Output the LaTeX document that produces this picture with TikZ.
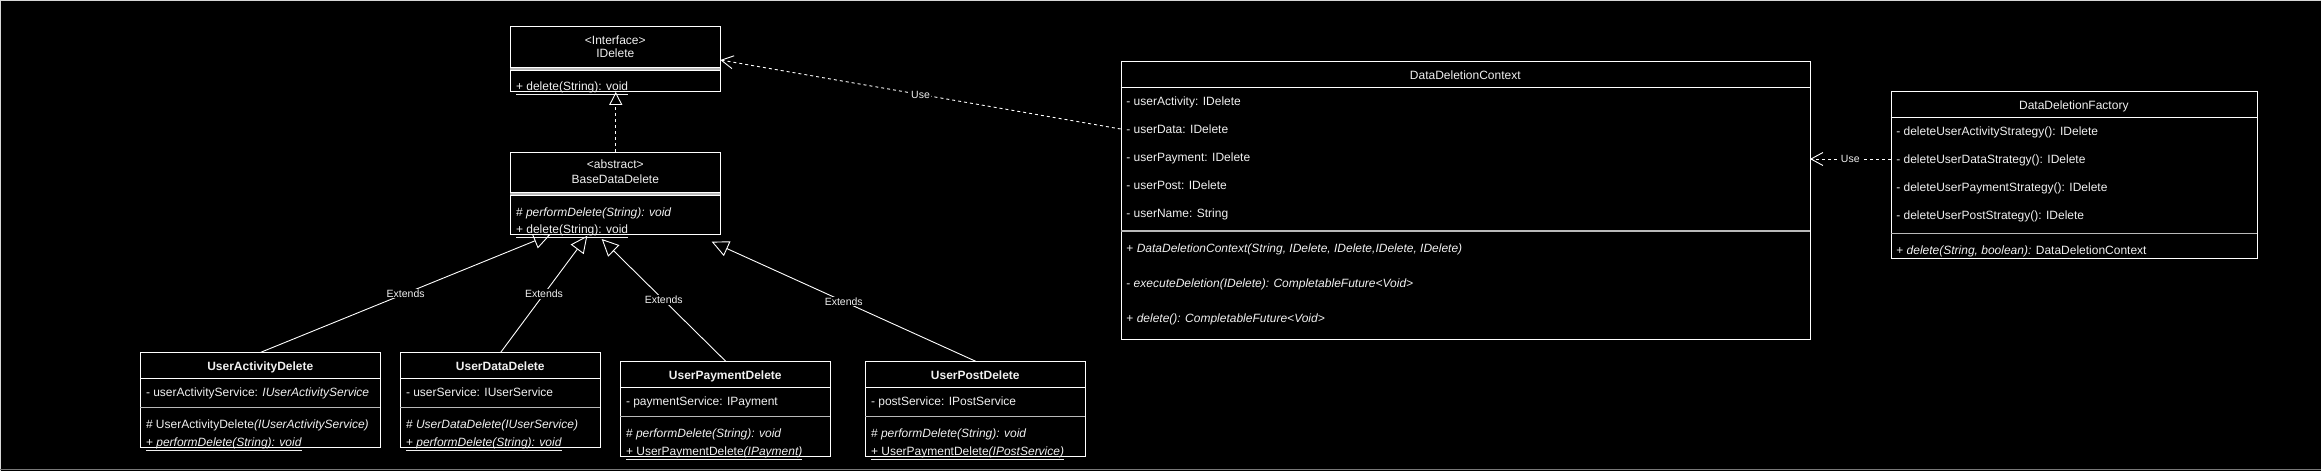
\documentclass[tikz,border=0pt]{standalone}
\usepackage{fontspec}
\setmainfont{Liberation Sans}
\usetikzlibrary{arrows.meta,calc}
\pgfdeclarelayer{bg}
\pgfsetlayers{bg,main}
\definecolor{fg}{RGB}{240,240,240}
\definecolor{sepc}{RGB}{185,185,185}
\definecolor{frametop}{RGB}{215,215,215}
\definecolor{framebot}{RGB}{120,120,120}
\begin{document}
\begin{tikzpicture}[x=1pt,y=-1pt,
  box/.style={draw=white,fill=black,line width=0.9pt,inner sep=0,anchor=north west},
  lt/.style={anchor=west,inner sep=0,text height=8.6pt,text depth=0pt,text=fg,font=\fontsize{12}{14}\selectfont},
  ct/.style={anchor=center,inner sep=0,text height=8.6pt,text depth=0pt,text=fg,font=\fontsize{12}{14}\selectfont},
  hsep/.style={draw=white,line width=0.9pt},
  asep/.style={draw=sepc,line width=1.4pt},
  conn/.style={draw=white,line width=0.9pt},
  lbl/.style={fill=black,text=fg,inner sep=1pt,font=\fontsize{10.5}{12}\selectfont},
  ext/.style={conn,-{Triangle[open,length=17pt,width=16pt]}},
  usearrow/.style={conn,dash pattern=on 3pt off 3pt,-{Straight Barb[length=12pt,width=13pt]}},
  real/.style={conn,dash pattern=on 3pt off 3pt,-{Triangle[open,length=13pt,width=13pt]}},
]
\useasboundingbox (0,0) rectangle (2321,471);

% ---------- boxes ----------
\node[box,minimum width=210pt,minimum height=64.7pt] (idel) at (510.3,26.3) {};
\node[box,minimum width=210pt,minimum height=82.6pt] (base) at (510.3,151.7) {};
\node[box,minimum width=240pt,minimum height=95pt] (uad) at (140.3,352.3) {};
\node[box,minimum width=200pt,minimum height=95pt] (udd) at (400.3,352.3) {};
\node[box,minimum width=210pt,minimum height=95pt] (upd) at (620.3,361.3) {};
\node[box,minimum width=220pt,minimum height=95pt] (upost) at (865.3,361.3) {};
\node[box,minimum width=689.3pt,minimum height=278pt] (ctx) at (1120.7,61.3) {};
\node[box,minimum width=366.4pt,minimum height=166.7pt] (fac) at (1890.6,91.3) {};

% ---------- connectors (behind boxes) ----------
\begin{pgfonlayer}{bg}
\fill[black] (0,0) rectangle (2321,471);
\coordinate (t1) at (550.5,234.5);
\coordinate (t2) at (587.3,235.7);
\coordinate (t3) at (601.7,239);
\coordinate (t4) at (711.7,241.7);
\draw[ext] (uad.north) -- node[lbl] (e1) {Extends} (t1);
\draw[ext] (udd.north) -- node[lbl] (e2) {Extends} (t2);
\draw[ext] (upd.north) -- node[lbl] (e3) {Extends} (t3);
\draw[ext] (upost.north) -- node[lbl] (e4) {Extends} (t4);
\draw[real] (base.north) -- (idel.south);
\coordinate (u1) at (1120.7,129);
\coordinate (u1e) at (720.3,60);
\draw[usearrow] (u1) -- node[lbl] (ul1) {Use} (u1e);
\coordinate (u2s) at (1890.6,159);
\coordinate (u2e) at (1810,159);
\draw[usearrow] (u2s) -- node[lbl] (ul2) {Use} (u2e);
\end{pgfonlayer}

% ---------- frame ----------
\draw[frametop,line width=1pt] (0,0.5) -- (2321,0.5);
\draw[frametop,line width=1pt] (0.5,0) -- (0.5,471);
\draw[framebot,line width=1.2pt] (0,469.8) -- (2321,469.8);

% ---------- IDelete ----------
\node[ct] (a1) at (615.3,39.7) {<Interface>};
\node[ct] (a2) at (615.3,53.3) {IDelete};
\draw[hsep] (510.3,67) -- (720.3,67);
\fill[sepc] (510.3,67.5) rectangle (720.3,69.5);
\draw[hsep] (510.3,70) -- (720.3,70);
\node[lt] (a3) at (515.8,86.3) {\underline{+ delete(String): void}};

% ---------- BaseDataDelete ----------
\node[ct] (b1) at (615.3,164.3) {<abstract>};
\node[ct] (b2) at (615.3,178.7) {BaseDataDelete};
\draw[hsep] (510.3,192.3) -- (720.3,192.3);
\fill[sepc] (510.3,192.8) rectangle (720.3,194.5);
\draw[hsep] (510.3,195) -- (720.3,195);
\node[lt] (b3) at (515.8,211.7) {\# \textit{performDelete(String): void}};
\node[lt] (b4) at (515.8,229.3) {\underline{+ delete(String): void}};

% ---------- UserActivityDelete ----------
\node[ct] (c1) at (260.3,366) {\bfseries UserActivityDelete};
\draw[hsep] (140.3,378.3) -- (380.3,378.3);
\node[lt] (c2) at (145.8,392) {- userActivityService: \textit{IUserActivityService}};
\draw[asep] (140.3,407.7) -- (380.3,407.7);
\node[lt] (c3) at (145.8,424.3) {\# UserActivityDelete\textit{(IUserActivityService)}};
\node[lt] (c4) at (145.8,442.3) {\underline{+ \textit{performDelete(String): void}}};

% ---------- UserDataDelete ----------
\node[ct] (d1) at (500.3,366) {\bfseries UserDataDelete};
\draw[hsep] (400.3,378.3) -- (600.3,378.3);
\node[lt] (d2) at (405.8,392) {- userService: IUserService};
\draw[asep] (400.3,407.7) -- (600.3,407.7);
\node[lt] (d3) at (405.8,424.3) {\# \textit{UserDataDelete(IUserService)}};
\node[lt] (d4) at (405.8,442.3) {\underline{+ \textit{performDelete(String): void}}};

% ---------- UserPaymentDelete ----------
\node[ct] (f1) at (725.3,374.7) {\bfseries UserPaymentDelete};
\draw[hsep] (620.3,387.3) -- (830.3,387.3);
\node[lt] (f2) at (625.8,401) {- paymentService: IPayment};
\draw[asep] (620.3,416.7) -- (830.3,416.7);
\node[lt] (f3) at (625.8,433.3) {\# \textit{performDelete(String): void}};
\node[lt] (f4) at (625.8,451.3) {\underline{+ UserPaymentDelete\textit{(IPayment)}}};

% ---------- UserPostDelete ----------
\node[ct] (g1) at (975.3,374.7) {\bfseries UserPostDelete};
\draw[hsep] (865.3,387.3) -- (1085.3,387.3);
\node[lt] (g2) at (870.8,401) {- postService: IPostService};
\draw[asep] (865.3,416.7) -- (1085.3,416.7);
\node[lt] (g3) at (870.8,433.3) {\# \textit{performDelete(String): void}};
\node[lt] (g4) at (870.8,451.3) {\underline{+ UserPaymentDelete\textit{(IPostService)}}};

% ---------- DataDeletionContext ----------
\node[ct] (h0) at (1465.3,75) {DataDeletionContext};
\draw[hsep] (1120.7,87.3) -- (1810,87.3);
\node[lt] (h1) at (1126.2,100.7) {- userActivity: IDelete};
\node[lt] (h2) at (1126.2,129) {- userData: IDelete};
\node[lt] (h3) at (1126.2,157) {- userPayment: IDelete};
\node[lt] (h4) at (1126.2,184.7) {- userPost: IDelete};
\node[lt] (h5) at (1126.2,212.7) {- userName: String};
\draw[asep] (1120.7,231) -- (1810,231);
\node[lt] (h6) at (1126.2,248) {+ \textit{DataDeletionContext(String, IDelete, IDelete,IDelete, IDelete)}};
\node[lt] (h7) at (1126.2,282.7) {- \textit{executeDeletion(IDelete): CompletableFuture<Void>}};
\node[lt] (h8) at (1126.2,317.7) {+ \textit{delete(): CompletableFuture<Void>}};

% ---------- DataDeletionFactory ----------
\node[ct] (k0) at (2073.8,104.7) {DataDeletionFactory};
\draw[hsep] (1890.6,117.3) -- (2257,117.3);
\node[lt] (k1) at (1896.1,131) {- deleteUserActivityStrategy(): IDelete};
\node[lt] (k2) at (1896.1,159) {- deleteUserDataStrategy(): IDelete};
\node[lt] (k3) at (1896.1,187) {- deleteUserPaymentStrategy(): IDelete};
\node[lt] (k4) at (1896.1,215) {- deleteUserPostStrategy(): IDelete};
\draw[asep] (1890.6,233.3) -- (2257,233.3);
\node[lt] (k5) at (1896.1,250) {+ \textit{delete(String, boolean):} DataDeletionContext};
\end{tikzpicture}
\end{document}
